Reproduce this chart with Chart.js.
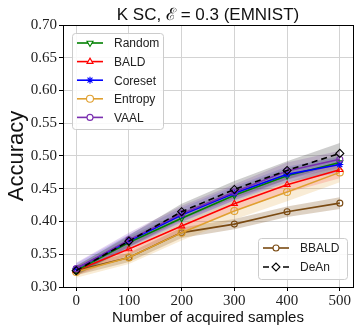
<!DOCTYPE html>
<html>
<head>
<meta charset="utf-8">
<script src="https://cdn.jsdelivr.net/npm/chart.js@4.4.1/dist/chart.umd.min.js"></script>
<style>
  html, body { margin: 0; padding: 0; background: #fff; }
  #wrap { width: 363px; height: 332px; position: relative; }
</style>
</head>
<body>
<div id="wrap"><canvas id="chart"></canvas></div>
<script>
// x positions and tick labels
const samples = [0, 100, 200, 300, 400, 500];
const yTicks = [0.30, 0.35, 0.40, 0.45, 0.50, 0.55, 0.60, 0.65, 0.70];

// mean accuracy per method
const randomAcc  = [0.325, 0.368, 0.405, 0.440, 0.470, 0.490];
const baldAcc    = [0.325, 0.358, 0.393, 0.427, 0.456, 0.479];
const coresetAcc = [0.328, 0.370, 0.410, 0.443, 0.472, 0.487];
const entropyAcc = [0.323, 0.345, 0.383, 0.416, 0.445, 0.475];
const vaalAcc    = [0.328, 0.372, 0.412, 0.445, 0.477, 0.495];
const bbaldAcc   = [0.325, 0.345, 0.383, 0.396, 0.415, 0.428];
const deanAcc    = [0.325, 0.370, 0.415, 0.449, 0.478, 0.504];

// spread (shaded band half-width) per method
const randomStd  = [0.008, 0.009, 0.010, 0.011, 0.011, 0.012];
const baldStd    = [0.008, 0.009, 0.010, 0.011, 0.012, 0.013];
const coresetStd = [0.008, 0.010, 0.011, 0.011, 0.012, 0.012];
const entropyStd = [0.009, 0.010, 0.012, 0.013, 0.014, 0.015];
const vaalStd    = [0.009, 0.011, 0.012, 0.012, 0.013, 0.013];
const bbaldStd   = [0.007, 0.007, 0.008, 0.008, 0.008, 0.009];
const deanStd    = [0.007, 0.009, 0.012, 0.013, 0.014, 0.016];

const methods = [
    { label: "DeAn",    mean: deanAcc,    std: deanStd,    color: "#000000", band: "rgba(60,60,60,0.25)",   style: "rectRot",  radius: 4, dash: [6, 4] },
    { label: "VAAL",    mean: vaalAcc,    std: vaalStd,    color: "#7a2fb0", band: "rgba(122,47,176,0.2)",  style: "circle",   radius: 3 },
    { label: "Coreset", mean: coresetAcc, std: coresetStd, color: "#0000ff", band: "rgba(0,0,255,0.15)",    style: "star",     radius: 3.5 },
    { label: "Random",  mean: randomAcc,  std: randomStd,  color: "#008000", band: "rgba(0,128,0,0.15)",    style: "triangle", radius: 3.5, rotation: 180 },
    { label: "BALD",    mean: baldAcc,    std: baldStd,    color: "#ff0000", band: "rgba(255,0,0,0.15)",    style: "triangle", radius: 3.5 },
    { label: "Entropy", mean: entropyAcc, std: entropyStd, color: "#e0a030", band: "rgba(224,160,48,0.2)",  style: "circle",   radius: 3.5 },
    { label: "BBALD",   mean: bbaldAcc,   std: bbaldStd,   color: "#7a4a12", band: "rgba(122,74,18,0.25)",  style: "circle",   radius: 3 }
];

const pts = arr => samples.map((x, i) => ({ x: x, y: arr[i] }));

/* ======================
   DATASETS
====================== */
const datasets = [];
methods.forEach(function (m) {
    datasets.push({
        label: m.label, data: pts(m.mean), borderColor: m.color, borderWidth: 1.6,
        borderDash: m.dash || [], pointStyle: m.style, pointRadius: m.radius,
        pointRotation: m.rotation || 0, pointBorderColor: m.color,
        pointBackgroundColor: m.style === "star" ? m.color : "rgba(0,0,0,0)",
        pointBorderWidth: 1.1, fill: false, order: 0
    });
});
methods.forEach(function (m) {
    datasets.push({
        label: m.label + "-lo", data: pts(m.mean.map((v, i) => v - m.std[i])),
        borderWidth: 0, pointRadius: 0, fill: false, order: 1
    });
    datasets.push({
        label: m.label + "-hi", data: pts(m.mean.map((v, i) => v + m.std[i])),
        borderWidth: 0, pointRadius: 0, fill: "-1", backgroundColor: m.band, order: 1
    });
});

/* ======================
   TITLE, FRAME, LEGENDS
====================== */
function drawLegend(ctx, items, box) {
    ctx.save();
    ctx.fillStyle = "rgba(255,255,255,0.85)";
    ctx.strokeStyle = "#cccccc";
    ctx.lineWidth = 1;
    ctx.beginPath();
    ctx.roundRect(box.x + 0.5, box.y + 0.5, box.w, box.h, 3);
    ctx.fill();
    ctx.stroke();
    items.forEach(function (m, i) {
        const y = box.y + box.first + i * box.step;
        ctx.strokeStyle = m.color;
        ctx.lineWidth = 1.6;
        ctx.setLineDash(m.dash || []);
        ctx.beginPath();
        ctx.moveTo(box.x + 5, y);
        ctx.lineTo(box.x + 31, y);
        ctx.stroke();
        ctx.setLineDash([]);
        ctx.fillStyle = m.style === "star" ? m.color : "#ffffff";
        ctx.strokeStyle = m.color;
        ctx.lineWidth = 1.1;
        Chart.helpers.drawPoint(ctx, {
            pointStyle: m.style, radius: m.radius, rotation: m.rotation || 0, borderWidth: 1.1
        }, box.x + 18, y);
        ctx.fillStyle = "#222222";
        ctx.font = "12px 'Liberation Sans'";
        ctx.textBaseline = "middle";
        ctx.textAlign = "left";
        ctx.fillText(m.label, box.x + 42, y + 1);
    });
    ctx.restore();
}

const decor = {
    id: "decor",
    afterDraw(chart) {
        const ctx = chart.ctx;
        const a = chart.chartArea;
        ctx.save();
        ctx.strokeStyle = "#000";
        ctx.lineWidth = 1;
        ctx.strokeRect(a.left + 0.5, a.top + 0.5, a.right - a.left, a.bottom - a.top);
        ctx.fillStyle = "#111";
        ctx.font = "17px 'Liberation Sans'";
        ctx.textAlign = "center";
        ctx.textBaseline = "middle";
        ctx.fillText("K SC, \u2130 = 0.3 (EMNIST)", (a.left + a.right) / 2, 15);
        ctx.restore();

        const byName = {};
        methods.forEach(m => { byName[m.label] = m; });
        drawLegend(ctx, ["Random", "BALD", "Coreset", "Entropy", "VAAL"].map(n => byName[n]),
            { x: 72, y: 33, w: 91, h: 96, first: 10, step: 18.6 });
        drawLegend(ctx, ["BBALD", "DeAn"].map(n => byName[n]),
            { x: 258, y: 238, w: 89, h: 41, first: 10, step: 19 });
    }
};

new Chart(document.getElementById("chart"), {
    type: "line",
    data: { datasets: datasets },
    plugins: [decor],
    options: {
        responsive: true,
        maintainAspectRatio: false,
        animation: false,
        layout: { padding: { top: 25, right: 10, left: 0, bottom: 0 } },
        plugins: { legend: { display: false }, tooltip: { enabled: false }, filler: { propagate: false } },
        scales: {
            x: {
                type: "linear", min: -25, max: 525,
                afterBuildTicks: axis => { axis.ticks = samples.map(v => ({ value: v })); },
                afterFit: axis => { axis.height = 45; },
                grid: { color: "#d3d3d3", tickColor: "#000", tickLength: 4 },
                border: { color: "#000" },
                ticks: { color: "#222", font: { family: "Liberation Serif", size: 15 }, padding: 1, maxRotation: 0 },
                title: { display: true, text: "Number of acquired samples", color: "#111",
                         font: { family: "Liberation Sans", size: 15 }, padding: { top: 0, bottom: 5 } }
            },
            y: {
                min: 0.30, max: 0.70,
                afterBuildTicks: axis => { axis.ticks = yTicks.map(v => ({ value: v })); },
                afterFit: axis => { axis.width = 63; },
                grid: { color: "#d3d3d3", tickColor: "#000", tickLength: 4 },
                border: { color: "#000" },
                ticks: { color: "#222", font: { family: "Liberation Serif", size: 15 }, padding: 2,
                         callback: v => v.toFixed(2) },
                title: { display: true, text: "Accuracy", color: "#111",
                         font: { family: "Liberation Sans", size: 22 }, padding: { top: 4, bottom: 0 } }
            }
        }
    }
});
</script>
</body>
</html>
